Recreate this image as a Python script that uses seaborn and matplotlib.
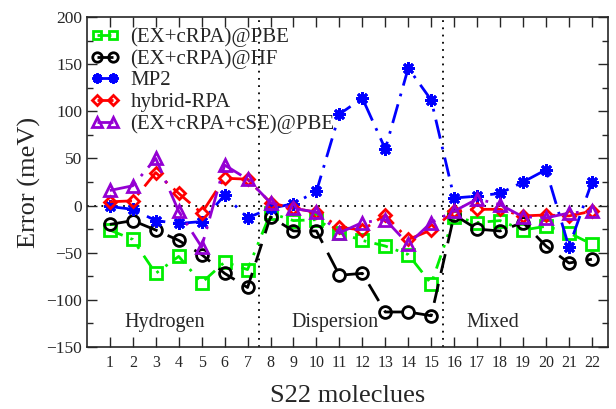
import numpy as np
import pandas as pd
import matplotlib
matplotlib.use('Agg')
import matplotlib.pyplot as plt
from matplotlib.ticker import MultipleLocator
import seaborn as sns

molecules = list(range(1, 23))

ex_crpa_pbe = [-26, -36, -72, -54, -82, -60, -68,
               -8, -16, -15, -29, -37, -43, -52, -83,
               -12, -18, -16, -26, -22, -29, -41]
ex_crpa_hf = [-20, -16, -26, -37, -52, -72, -87,
              -12, -27, -27, -74, -72, -113, -113, -117,
              -10, -25, -27, -18, -43, -61, -57]
mp2 = [-1, -4, -16, -19, -17, 11, -13,
       -3, 2, 15, 97, 114, 60, 146, 112,
       8, 10, 13, 25, 38, -44, 25]
hybrid_rpa = [4, 5, 35, 13, -8, 29, 28,
              3, -3, -7, -23, -26, -10, -36, -26,
              -6, -4, -4, -11, -10, -11, -6]
ex_crpa_cse = [16, 21, 50, -6, -44, 43, 28,
               3, -3, -7, -29, -18, -15, -41, -18,
               -6, 7, 1, -12, -13, -8, -6]

region_names = ['Hydrogen', 'Dispersion', 'Mixed']
region_x = [3.4, 10.8, 17.7]

sns.set_style('ticks')
plt.rcParams['font.family'] = ['Liberation Serif', 'DejaVu Serif']
plt.rcParams['mathtext.fontset'] = 'stix'

fig = plt.figure(figsize=(6.16, 4.09), dpi=100)
ax = fig.add_axes([0.141, 0.152, 0.846, 0.806])

series = [
    ('(EX+cRPA)@PBE', ex_crpa_pbe, '#00ee00', 's', 8, (0, (5, 3, 1, 3, 1, 3))),
    ('(EX+cRPA)@HF', ex_crpa_hf, 'black', 'o', 8.5, (0, (7, 4))),
    ('MP2', mp2, '#0000ff', (8, 2, 0), 9, (0, (7, 3, 1, 3))),
    ('hybrid-RPA', hybrid_rpa, '#ff0000', 'D', 6.5, (0, (8, 3, 1, 3))),
    ('(EX+cRPA+cSE)@PBE', ex_crpa_cse, '#9400d3', '^', 8.5, (0, (10, 3, 1, 3))),
]

for name, vals, color, mk, ms, ls in series:
    df = pd.DataFrame({'mol': molecules, 'err': vals})
    sns.lineplot(data=df, x='mol', y='err', ax=ax, color=color, linewidth=2,
                 linestyle=ls, marker=mk, markersize=ms,
                 markerfacecolor='none', markeredgecolor=color,
                 markeredgewidth=2, label=name)

ax.axhline(0, color='black', linestyle=(0, (1, 3)), linewidth=1.3, zorder=0)
for xv in [7.5, 15.5]:
    ax.axvline(xv, color='black', linestyle=(0, (1, 3)), linewidth=1.3, zorder=0)

for name, xv in zip(region_names, region_x):
    ax.text(xv, -124, name, ha='center', va='center', fontsize=14.5)

ax.set_xlim(0, 22.7)
ax.set_ylim(-150, 200)
ax.set_xticks(molecules)
ax.yaxis.set_major_locator(MultipleLocator(50))
ax.yaxis.set_minor_locator(MultipleLocator(25))
ax.tick_params(axis='both', which='both', direction='in', top=True, right=True)
ax.tick_params(axis='both', which='major', length=7, width=1, labelsize=12.5)
ax.tick_params(axis='y', which='minor', length=4, width=1)
ax.tick_params(axis='x', which='major', labelsize=11.5, pad=6)
for sp in ax.spines.values():
    sp.set_linewidth(1.2)

ax.set_xlabel('S22 moleclues', fontsize=19, labelpad=10)
ax.set_ylabel('Error (meV)', fontsize=19)

ax.legend(loc='upper left', bbox_to_anchor=(0.0, 0.982), frameon=False,
          fontsize=15, numpoints=2, markerscale=0.8, handlelength=1.35,
          handletextpad=0.55, labelspacing=0.1, borderaxespad=0,
          borderpad=0.2)

fig.savefig('out.png', dpi=100)
